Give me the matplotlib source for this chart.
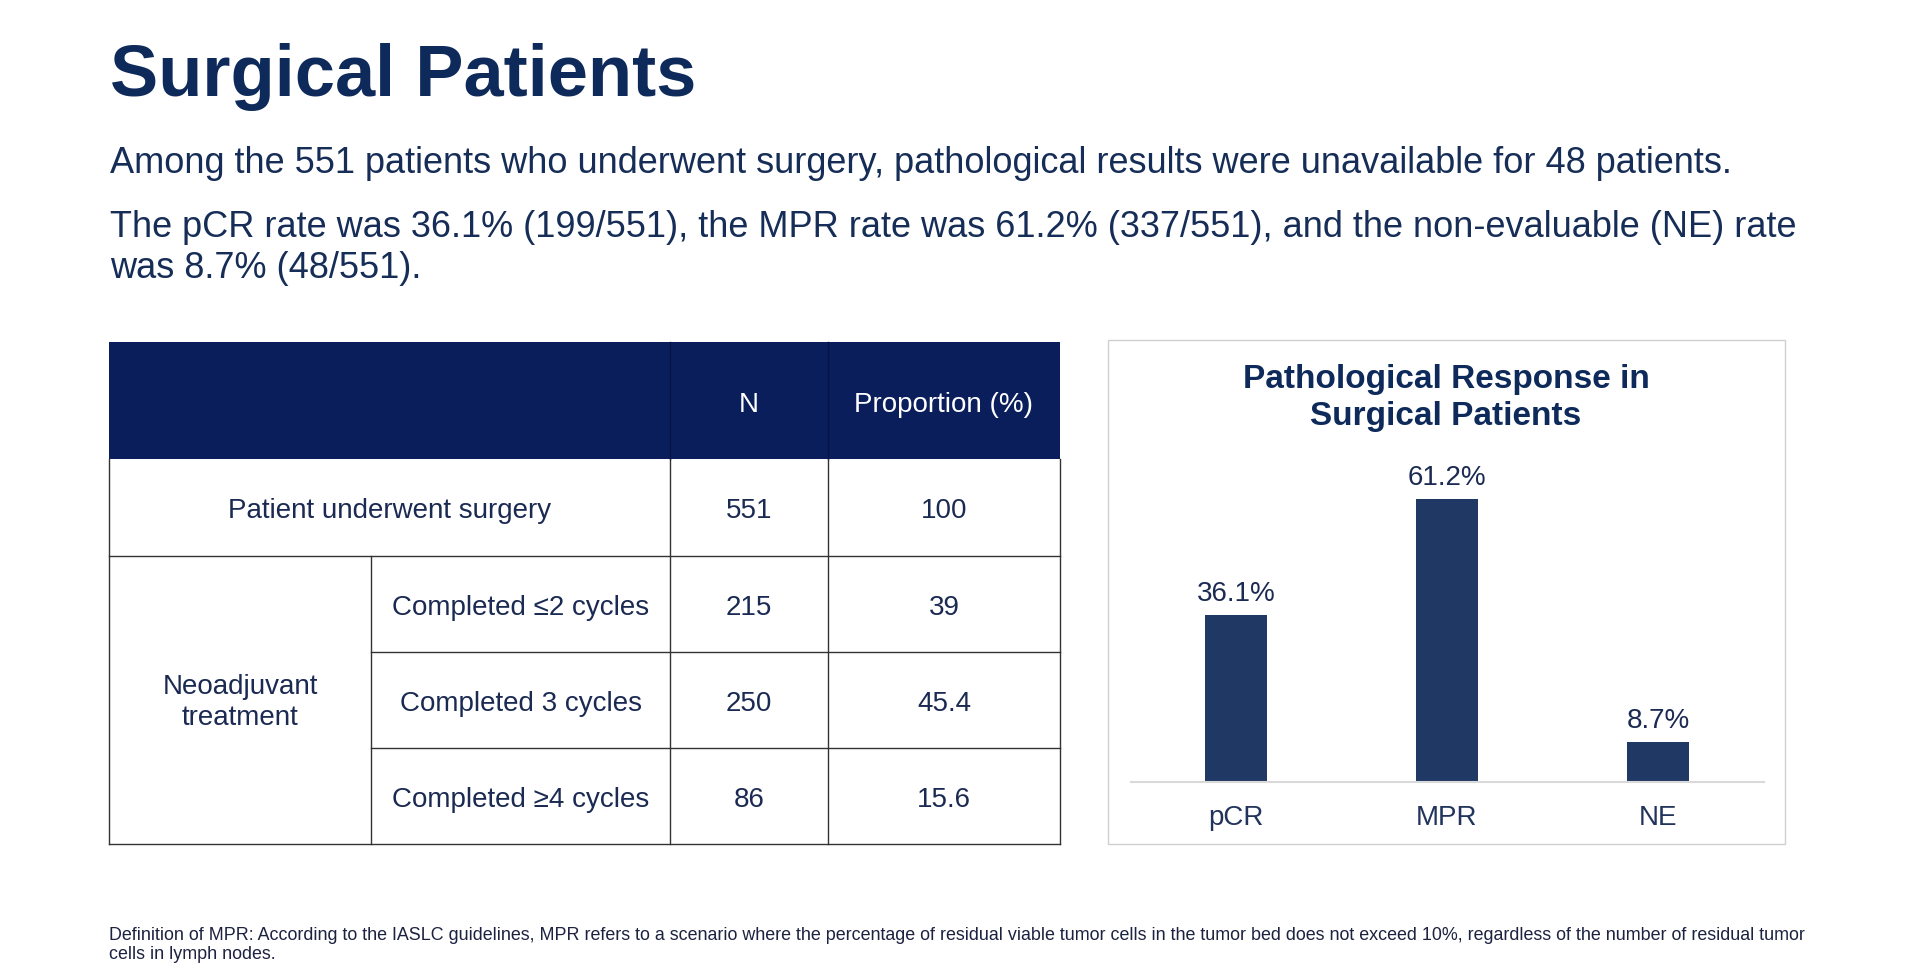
import matplotlib
matplotlib.use("Agg")
import matplotlib.pyplot as plt
from matplotlib.patches import Rectangle

plt.rcParams['font.family'] = ['Liberation Sans', 'DejaVu Sans']

# ---------------- data ----------------
title = "Surgical Patients"
para1 = "Among the 551 patients who underwent surgery, pathological results were unavailable for 48 patients."
para2_lines = ["The pCR rate was 36.1% (199/551), the MPR rate was 61.2% (337/551), and the non-evaluable (NE) rate",
               "was 8.7% (48/551)."]
footnote_lines = ["Definition of MPR: According to the IASLC guidelines, MPR refers to a scenario where the percentage of residual viable tumor cells in the tumor bed does not exceed 10%, regardless of the number of residual tumor",
                  "cells in lymph nodes."]

header_labels = ["", "N", "Proportion (%)"]
total_label = "Patient underwent surgery"
total_n = 551
total_pct = "100"
group_label = "Neoadjuvant\ntreatment"
sub_labels = ["Completed \u22642 cycles", "Completed 3 cycles", "Completed \u22654 cycles"]
sub_n = [215, 250, 86]
sub_pct = ["39", "45.4", "15.6"]

chart_title = ["Pathological Response in", "Surgical Patients"]
categories = ["pCR", "MPR", "NE"]
rates = [36.1, 61.2, 8.7]

# ---------------- style ----------------
W, H = 1920, 972
TITLE_C = "#0e2a5a"
TEXT_C = "#162d57"
TABLE_TXT = "#1b2a52"
HEADER_FILL = "#0a1e5c"
BAR_C = "#203864"
GRID_C = "#333333"

fig = plt.figure(figsize=(W / 100, H / 100), dpi=100)
fig.patch.set_facecolor("white")

def fx(x):
    return x / W

def fy(y):
    return 1 - y / H

# overlay axes in pixel coordinates (y from top)
ov = fig.add_axes([0, 0, 1, 1])
ov.set_xlim(0, W)
ov.set_ylim(H, 0)
ov.axis("off")

ov.text(110, 96, title, fontsize=52, fontweight="bold", color=TITLE_C, va="baseline", ha="left")
ov.text(110, 173, para1, fontsize=26, color=TEXT_C, va="baseline", ha="left")
ov.text(110, 237, para2_lines[0], fontsize=26, color=TEXT_C, va="baseline", ha="left")
ov.text(110, 278, para2_lines[1], fontsize=26, color=TEXT_C, va="baseline", ha="left")
ov.text(109, 940, footnote_lines[0], fontsize=12.9, color="#1c2240", va="baseline", ha="left")
ov.text(109, 959, footnote_lines[1], fontsize=12.9, color="#1c2240", va="baseline", ha="left")

# ---------------- table ----------------
cols = [109, 371, 670, 828, 1060]
rows = [342, 459, 556, 652, 748, 844]
fs_t = 20

ov.add_patch(Rectangle((cols[0], rows[0]), cols[4] - cols[0], rows[1] - rows[0],
                       facecolor=HEADER_FILL, edgecolor="none"))
for xc in (cols[2], cols[3]):
    ov.plot([xc, xc], [rows[0], rows[1]], color="#061443", lw=1.0)
ov.text((cols[2] + cols[3]) / 2, (rows[0] + rows[1]) / 2 + 4, header_labels[1], color="white",
        fontsize=fs_t, ha="center", va="center")
ov.text((cols[3] + cols[4]) / 2, (rows[0] + rows[1]) / 2 + 4, header_labels[2], color="white",
        fontsize=fs_t, ha="center", va="center")

lw = 1.0
# horizontal lines
ov.plot([cols[0], cols[4]], [rows[2], rows[2]], color=GRID_C, lw=lw)
for r in rows[3:5]:
    ov.plot([cols[1], cols[4]], [r, r], color=GRID_C, lw=lw)
ov.plot([cols[0], cols[4]], [rows[5], rows[5]], color=GRID_C, lw=lw)
# vertical lines
for xc in (cols[0], cols[2], cols[3], cols[4]):
    ov.plot([xc, xc], [rows[1], rows[5]], color=GRID_C, lw=lw)
ov.plot([cols[1], cols[1]], [rows[2], rows[5]], color=GRID_C, lw=lw)

def cell_text(x0, x1, y0, y1, s, **kw):
    ov.text((x0 + x1) / 2, (y0 + y1) / 2 + 3.5, s, fontsize=fs_t, color=TABLE_TXT,
            ha="center", va="center", **kw)

cell_text(cols[0], cols[2], rows[1], rows[2], total_label)
cell_text(cols[2], cols[3], rows[1], rows[2], str(total_n))
cell_text(cols[3], cols[4], rows[1], rows[2], total_pct)
ov.text((cols[0] + cols[1]) / 2, (rows[2] + rows[5]) / 2 + 2, group_label, fontsize=fs_t,
        color=TABLE_TXT, ha="center", va="center", linespacing=1.25, multialignment="center")
for i, (lab, n, p) in enumerate(zip(sub_labels, sub_n, sub_pct)):
    cell_text(cols[1], cols[2], rows[2 + i], rows[3 + i], lab)
    cell_text(cols[2], cols[3], rows[2 + i], rows[3 + i], str(n))
    cell_text(cols[3], cols[4], rows[2 + i], rows[3 + i], p)

# ---------------- chart panel ----------------
ov.add_patch(Rectangle((1108, 340), 1785 - 1108, 844 - 340, facecolor="white",
                       edgecolor="#d0d0d0", lw=1.0))
ov.text(1446, 388, chart_title[0], fontsize=24, fontweight="bold", color=TITLE_C,
        ha="center", va="baseline")
ov.text(1446, 425, chart_title[1], fontsize=24, fontweight="bold", color=TITLE_C,
        ha="center", va="baseline")

ax = fig.add_axes([fx(1130.5), fy(782), 633 / W, (782 - 458) / H])
ax.set_facecolor("none")
x = list(range(len(categories)))
ax.bar(x, rates, width=0.29, color=BAR_C)
ax.set_xlim(-0.5, 2.5)
ax.set_ylim(0, 70)
for s in ("top", "right", "left"):
    ax.spines[s].set_visible(False)
ax.spines["bottom"].set_color("#d9d9d9")
ax.spines["bottom"].set_linewidth(1.5)
ax.set_yticks([])
ax.set_xticks([])
px2pt = 72 / 100
for xi, v, c in zip(x, rates, categories):
    ax.annotate(f"{v:.1f}%", xy=(xi, v), xytext=(0, 14 * px2pt), textcoords="offset points",
                ha="center", va="baseline", fontsize=20, color=TABLE_TXT)
    ax.annotate(c, xy=(xi, 0), xytext=(0, -43 * px2pt), textcoords="offset points",
                ha="center", va="baseline", fontsize=20, color="#22335c")

fig.savefig("out.png", dpi=100, facecolor="white")
